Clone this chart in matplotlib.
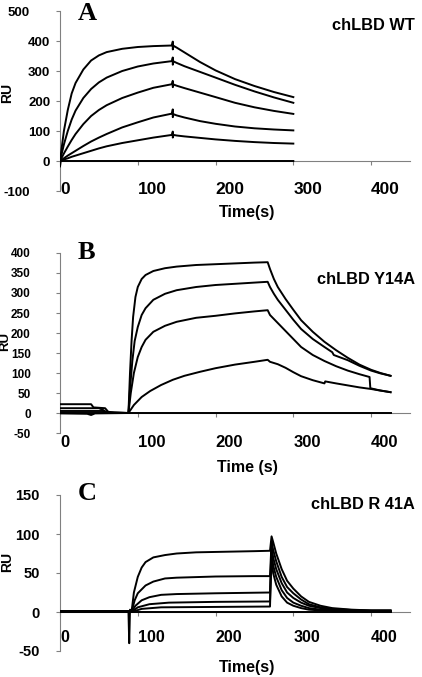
#!/usr/bin/env python
"""SPR sensorgrams for chLBD WT, Y14A and R41A (three stacked panels).

Curves are read off the reference picture by eye; no fitting.
Output: out.png (422 x 677 px)
"""
import matplotlib
matplotlib.use("Agg")
import matplotlib.pyplot as plt

SANS = "Liberation Sans"
SERIF = "Liberation Serif"
GREY = "#808080"

# ---- panel A: chLBD WT (shared time base, spike at 145 s) ----
A_T = [0, 5, 10, 15, 20, 30, 40, 50, 60, 80, 100, 120, 144, 145, 145, 146,
       150, 160, 180, 200, 225, 250, 275, 300]
A_1 = [0, 100, 170, 225, 260, 305, 335, 352, 363, 374, 380, 383, 385, 398, 372, 384,
       378, 362, 330, 302, 273, 250, 230, 213]
A_2 = [0, 55, 100, 138, 168, 210, 240, 262, 278, 300, 315, 325, 333, 345, 321, 332,
       327, 316, 297, 278, 254, 232, 212, 194]
A_3 = [0, 25, 48, 70, 90, 123, 150, 170, 186, 210, 228, 244, 256, 267, 246, 255,
       251, 243, 228, 213, 194, 179, 167, 157]
A_4 = [0, 9, 18, 26, 34, 50, 65, 78, 90, 112, 129, 145, 158, 172, 146, 156,
       152, 145, 133, 124, 115, 109, 105, 102]
A_5 = [0, 5, 9, 14, 18, 26, 34, 42, 49, 60, 69, 78, 87, 98, 78, 87,
       85, 82, 77, 72, 67, 63, 60, 58]
A_0_T = [0, 1, 300]
A_0 = [-18, 0, 0]

# ---- panel B: chLBD Y14A ----
B_1_T = [0, 40, 43, 58, 62, 70, 88, 90, 92, 94, 97, 100, 105, 110, 120, 135, 150, 175,
         200, 225, 250, 267, 270, 275, 280, 290, 300, 310, 325, 340, 355, 370, 385,
         400, 412, 425]
B_1 = [22, 22, 14, 12, 3, 1, 0, 100, 180, 240, 290, 315, 335, 345, 355, 362, 366, 370,
       372, 374, 376, 377, 360, 335, 315, 285, 258, 232, 203, 178, 157, 138, 121,
       108, 100, 93]
B_2_T = [0, 50, 55, 60, 88, 90, 93, 96, 100, 105, 110, 120, 135, 150, 175, 200, 225,
         250, 267, 270, 275, 280, 290, 300, 310, 325, 340, 350, 352, 370, 385, 400,
         412, 425]
B_2 = [12, 12, 8, 2, 0, 60, 130, 180, 215, 245, 262, 283, 298, 307, 315, 320, 323,
       326, 328, 315, 298, 283, 258, 233, 210, 185, 165, 152, 145, 132, 118, 106,
       99, 93]
B_3_T = [0, 55, 60, 88, 91, 95, 100, 105, 110, 120, 135, 150, 175, 200, 225, 250, 267,
         270, 275, 280, 290, 300, 310, 325, 340, 355, 370, 385, 398, 399, 410, 425]
B_3 = [5, 5, 1, 0, 50, 100, 140, 165, 183, 203, 218, 228, 238, 243, 249, 254, 257,
       245, 235, 225, 205, 185, 165, 145, 130, 117, 106, 97, 90, 62, 57, 52]
B_4_T = [0, 35, 40, 45, 88, 95, 105, 116, 130, 145, 160, 180, 200, 225, 250, 267,
         270, 280, 290, 300, 310, 325, 340, 341, 355, 370, 385, 400, 412, 425]
B_4 = [-1, -2, -5, -1, 0, 20, 40, 55, 70, 83, 93, 103, 112, 121, 128, 133,
       128, 122, 113, 102, 92, 82, 74, 79, 74, 69, 64, 60, 56, 52]
B_0_T = [0, 425]
B_0 = [0, 0]

# ---- panel C: chLBD R41A ----
C_1_T = [0, 40, 60, 80, 88, 89, 90, 92, 95, 100, 105, 110, 120, 135, 150, 175, 200,
         225, 250, 270, 272, 274, 278, 285, 292, 300, 310, 320, 335, 350, 375, 400, 425]
C_1 = [1, 1, 0, 0, 1, -40, 3, 0, 25, 45, 57, 64, 70, 73, 75, 76.5, 77,
       77.5, 78, 78.5, 97, 90, 75, 55, 40, 30, 20, 13, 8, 5, 3, 2, 2]
C_2_T = [0, 88, 92, 96, 100, 110, 120, 135, 150, 200, 250, 270, 272, 274, 278, 285,
         292, 300, 310, 320, 335, 350, 375, 400, 425]
C_2 = [1, 1, 0, 15, 24, 34, 39, 43, 44, 45.5, 46, 46, 90, 80, 65, 45,
       32, 24, 16, 10, 6, 4, 2.5, 2, 2]
C_3_T = [0, 88, 92, 97, 105, 115, 130, 150, 200, 270, 272, 274, 278, 285, 292, 300,
         310, 320, 335, 350, 375, 400, 425]
C_3 = [1, 1, 0, 8, 15, 19, 22, 23, 24, 25, 85, 70, 55, 37, 25, 18,
       12, 8, 5, 3, 2, 1.5, 1.5]
C_4_T = [0, 88, 92, 100, 115, 140, 200, 270, 272, 274, 278, 285, 292, 300, 310, 320,
         335, 350, 400, 425]
C_4 = [1, 1, 0, 6, 10, 12, 13, 13.5, 80, 60, 45, 28, 18, 12, 8, 5,
       3, 2, 1, 1]
C_5_T = [0, 88, 92, 105, 130, 270, 272, 274, 278, 285, 292, 300, 310, 320, 335, 350, 425]
C_5 = [1, 1, 0, 4, 6, 7, 75, 50, 35, 20, 12, 8, 5, 3, 2, 1.5, 1]
C_0_T = [0, 425]
C_0 = [0, 0]

X_TICKS = [0, 100, 200, 300, 400]
A_YTICKS = [-100, 0, 100, 200, 300, 400, 500]
B_YTICKS = [-50, 0, 50, 100, 150, 200, 250, 300, 350, 400]
C_YTICKS = [-50, 0, 50, 100, 150]


def style_panel(ax, ylim, yticks, xpad, ypad, xsize, ysize):
    ax.set_xlim(0, 450)
    ax.set_ylim(*ylim)
    for s in ("top", "right"):
        ax.spines[s].set_visible(False)
    ax.spines["left"].set_color(GREY)
    ax.spines["bottom"].set_color(GREY)
    ax.spines["left"].set_linewidth(0.8)
    ax.spines["bottom"].set_linewidth(0.8)
    ax.spines["bottom"].set_position(("data", 0))
    ax.set_xticks(X_TICKS, labels=[str(v) for v in X_TICKS], ha="left")
    ax.set_yticks(yticks, labels=[str(v) for v in yticks])
    ax.tick_params(axis="x", direction="out", length=3, width=0.8, color=GREY,
                   pad=xpad, labelsize=xsize)
    ax.tick_params(axis="y", direction="out", length=3, width=0.8, color=GREY,
                   pad=ypad, labelsize=ysize)
    for lab in ax.get_xticklabels() + ax.get_yticklabels():
        lab.set_fontweight("bold")
        lab.set_family(SANS)


def main():
    fig = plt.figure(figsize=(4.22, 6.77), dpi=100)
    left, width = 60 / 422, 350 / 422
    axA = fig.add_axes([left, 1 - 191 / 677, width, 180 / 677])
    axB = fig.add_axes([left, 1 - 433 / 677, width, 180 / 677])
    axC = fig.add_axes([left, 1 - 651 / 677, width, 156 / 677])

    kw = dict(color="black", lw=1.4, zorder=3, solid_joinstyle="round")
    # A
    axA.plot(A_0_T, A_0, **kw)
    for y in (A_1, A_2, A_3, A_4, A_5):
        axA.plot(A_T, y, **kw)
    style_panel(axA, (-100, 500), A_YTICKS, xpad=12, ypad=4, xsize=12.5, ysize=9.5)
    ylabs = axA.get_yticklabels()
    ylabs[-1].set_x(-0.058)   # "500" sits further left in the original
    ylabs[0].set_x(-0.058)    # so does "-100"
    # B
    axB.plot(B_0_T, B_0, **kw)
    for t, y in ((B_1_T, B_1), (B_2_T, B_2), (B_3_T, B_3), (B_4_T, B_4)):
        axB.plot(t, y, **kw)
    style_panel(axB, (-50, 400), B_YTICKS, xpad=12.5, ypad=18, xsize=12, ysize=8.5)
    # C
    axC.plot(C_0_T, C_0, **kw)
    for t, y in ((C_1_T, C_1), (C_2_T, C_2), (C_3_T, C_3), (C_4_T, C_4), (C_5_T, C_5)):
        axC.plot(t, y, **kw)
    style_panel(axC, (-50, 150), C_YTICKS, xpad=10, ypad=11.5, xsize=11.5, ysize=10.5)

    lab_kw = dict(fontsize=11.5, fontweight="bold", family=SANS)
    for ax, xl, xy, yx, yy, rs, letter, ly, title, ty in (
            (axA, "Time(s)", -0.078, -0.13, 0.544, 10, "A", 1.05, "chLBD WT", 0.917),
            (axB, "Time (s)", -0.15, -0.141, 0.506, 9.5, "B", 1.065, "chLBD Y14A", 0.85),
            (axC, "Time(s)", -0.058, -0.13, 0.57, 10, "C", 1.085, "chLBD R 41A", 0.936)):
        ax.set_xlabel(xl, **lab_kw)
        ax.xaxis.set_label_coords(0.535, xy)
        ax.set_ylabel("RU", fontsize=rs, fontweight="bold", family=SANS)
        ax.yaxis.set_label_coords(yx, yy)
        ax.text(0.05, ly, letter, transform=ax.transAxes, ha="left", va="top",
                fontsize=19, fontweight="bold", family=SERIF)
        ax.text(1.015, ty, title, transform=ax.transAxes, ha="right", va="center",
                fontsize=11.8, fontweight="bold", family=SANS)

    fig.savefig("out.png", dpi=100)
    plt.close(fig)


if __name__ == "__main__":
    main()
